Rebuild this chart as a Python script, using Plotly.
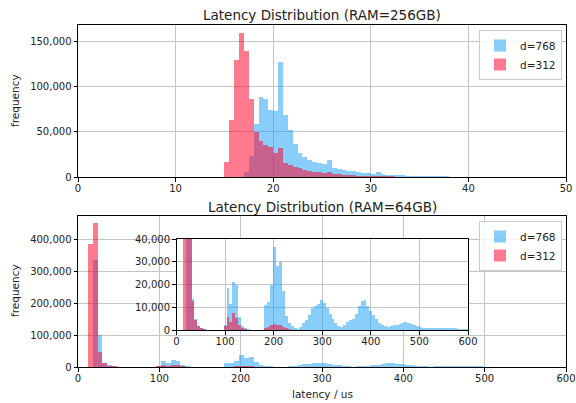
import plotly.graph_objects as go

# ---------------- data ----------------
# RAM=256GB histogram: bins of 0.5 us starting at 15.0 us
bin_start_256 = 15.0
bin_width_256 = 0.5
d768_256 = [
    0, 0, 0, 0, 5000, 23000, 59000, 89000, 87000, 74000,
    73000, 128000, 69000, 52000, 37000, 27000, 22000, 18500, 17000, 15500,
    14000, 19000, 10500, 9000, 8000, 7000, 6200, 5600, 4800, 4400,
    3700, 5500, 3000, 2600, 2200, 1900, 1700, 1500, 1300, 1200,
    1100, 1000, 1200, 800, 700, 600, 500, 450, 400, 350,
    300, 300, 250, 200, 150, 100, 100, 80, 50, 50,
]
d312_256 = [
    17000, 63000, 130000, 160000, 140000, 87000, 50000, 40000, 36000, 33000,
    27000, 32500, 16000, 13300, 10700, 9600, 8100, 7000, 5900, 5200,
    4800, 5500, 3700, 3000, 2500, 2200, 1900, 1600, 1400, 1200,
    1000, 1100, 800, 700, 600, 500, 400, 350, 300, 250,
    200, 200, 150, 100, 100, 80, 80, 60, 50, 40,
    30, 30, 20, 20, 10, 10, 10, 0, 0, 0,
]

# RAM=64GB histogram: bins of 6 us starting at 12 us
bin_start_64 = 12.0
bin_width_64 = 6.0
d768_64 = [
    0, 335000, 100000, 13500, 4900, 1900, 900, 400, 150, 50,
    0, 0, 0, 0, 2200, 18500, 11500, 21000, 20000, 5600,
    1900, 1000, 400, 100, 0, 0, 0, 0, 11000, 12500,
    20000, 36500, 28000, 30000, 17000, 6000, 3200, 1800, 900, 600,
    1200, 3000, 4500, 6800, 9500, 10500, 11500, 13000, 12000, 9500,
    7000, 5000, 3200, 1800, 1400, 2200, 3300, 4200, 4800, 7000,
    10500, 12800, 13200, 10500, 8500, 6800, 5000, 3200, 2200, 1700,
    1500, 1700, 2000, 2400, 2800, 3200, 3400, 3200, 2800, 2400,
    1900, 1500, 1100, 900, 800, 700, 700, 700, 700, 800,
    800, 700, 700, 700, 600, 600, 500, 400,
]
d312_64 = [
    385000, 450000, 48000, 12600, 4500, 1800, 800, 350, 100, 30,
    0, 0, 0, 0, 1900, 5600, 3300, 7500, 5200, 2400,
    1000, 400, 100, 0, 0, 0, 0, 0, 900, 1500,
    2000, 2800, 2000, 2300, 1400, 700, 300, 100, 0, 0,
] + [0] * 58

series_names = ["d=768", "d=312"]
titles = ["Latency Distribution (RAM=256GB)", "Latency Distribution (RAM=64GB)"]

# ---------------- styling ----------------
W, H = 576, 403
BLUE = "rgba(20,155,245,0.5)"
RED = "rgba(255,0,40,0.52)"
FONT = "DejaVu Sans"
GRID = "#c4c4c4"
TXT = "#222222"

def px_x(p):
    return p / W

def px_y(p):
    return 1 - p / H

fig = go.Figure()

def add_pair(xa, ya, start, width, blue, red, legend, show):
    for vals, name, col in ((blue, series_names[0], BLUE), (red, series_names[1], RED)):
        fig.add_trace(go.Bar(
            y=vals, x0=start + width / 2, dx=width, width=width,
            name=name, marker=dict(color=col, line=dict(width=0)),
            xaxis=xa, yaxis=ya, legend=legend, showlegend=show,
            hoverinfo="skip",
        ))

add_pair("x", "y", bin_start_256, bin_width_256, d768_256, d312_256, "legend", True)
add_pair("x2", "y2", bin_start_64, bin_width_64, d768_64, d312_64, "legend2", True)
add_pair("x3", "y3", bin_start_64, bin_width_64, d768_64, d312_64, "legend", False)

axis_common = dict(
    showgrid=True, gridcolor=GRID, gridwidth=1,
    showline=True, mirror=True, linecolor="#000000", linewidth=1,
    ticks="outside", ticklen=3.5, tickwidth=0.8, tickcolor="#000000",
    tickfont=dict(family=FONT, size=10, color=TXT),
    zeroline=False, fixedrange=True, automargin=False,
)
xaxis_extra = dict(ticklabelstandoff=-2)

MAIN_X = [px_x(78), px_x(566)]
INSET_XRANGE = [0, 600]
INSET_YRANGE = [0, 40000]
TITLE_FONT = dict(family=FONT, size=13.5, color=TXT)
LABEL_FONT = dict(family=FONT, size=10.5, color=TXT)

fig.update_layout(
    width=W, height=H,
    margin=dict(l=0, r=0, t=0, b=0, autoexpand=False),
    paper_bgcolor="white", plot_bgcolor="white",
    barmode="overlay", bargap=0,
    font=dict(family=FONT, size=10, color=TXT),
    xaxis=dict(axis_common, **xaxis_extra, domain=MAIN_X, range=[0, 50], dtick=10, anchor="y"),
    yaxis=dict(axis_common, domain=[px_y(177), px_y(25)], range=[0, 168700],
               dtick=50000, tickformat=",d", anchor="x"),
    xaxis2=dict(axis_common, **xaxis_extra, domain=MAIN_X, range=[0, 600], dtick=100, anchor="y2"),
    yaxis2=dict(axis_common, domain=[px_y(367), px_y(216)], range=[0, 472500],
                dtick=100000, tickformat=",d", anchor="x2"),
    xaxis3=dict(axis_common, **xaxis_extra, domain=[px_x(176.5), px_x(468)], range=INSET_XRANGE,
                dtick=100, anchor="y3"),
    yaxis3=dict(axis_common, domain=[px_y(330), px_y(239)], range=INSET_YRANGE,
                dtick=10000, tickformat=",d", anchor="x3"),
    legend=dict(x=px_x(562), y=px_y(30), xanchor="right", yanchor="top",
                bgcolor="rgba(255,255,255,0.8)", bordercolor="#cccccc", borderwidth=1,
                font=LABEL_FONT, traceorder="normal"),
    legend2=dict(x=px_x(562), y=px_y(221), xanchor="right", yanchor="top",
                 bgcolor="rgba(255,255,255,0.8)", bordercolor="#cccccc", borderwidth=1,
                 font=LABEL_FONT, traceorder="normal"),
    shapes=[dict(type="rect", xref="x3", yref="y3",
                 x0=INSET_XRANGE[0], x1=INSET_XRANGE[1],
                 y0=INSET_YRANGE[0], y1=INSET_YRANGE[1],
                 fillcolor="white", line=dict(width=0), layer="below")],
    annotations=[
        dict(text=titles[0], x=(78 + 566) / 2 / W, y=px_y(15), xref="paper", yref="paper",
             showarrow=False, font=TITLE_FONT, xanchor="center", yanchor="middle"),
        dict(text=titles[1], x=(78 + 566) / 2 / W, y=px_y(207), xref="paper", yref="paper",
             showarrow=False, font=TITLE_FONT, xanchor="center", yanchor="middle"),
        dict(text="frequency", x=px_x(15), y=px_y(101), xref="paper", yref="paper",
             showarrow=False, textangle=-90, font=LABEL_FONT,
             xanchor="center", yanchor="middle"),
        dict(text="frequency", x=px_x(15), y=px_y(291), xref="paper", yref="paper",
             showarrow=False, textangle=-90, font=LABEL_FONT,
             xanchor="center", yanchor="middle"),
        dict(text="latency / us", x=(78 + 566) / 2 / W, y=px_y(394), xref="paper", yref="paper",
             showarrow=False, font=LABEL_FONT, xanchor="center", yanchor="middle"),
    ],
)

fig.write_html(
    "out.html",
    config={"displayModeBar": False},
    post_script="document.body.style.margin='0';document.body.style.overflow='hidden';",
)
